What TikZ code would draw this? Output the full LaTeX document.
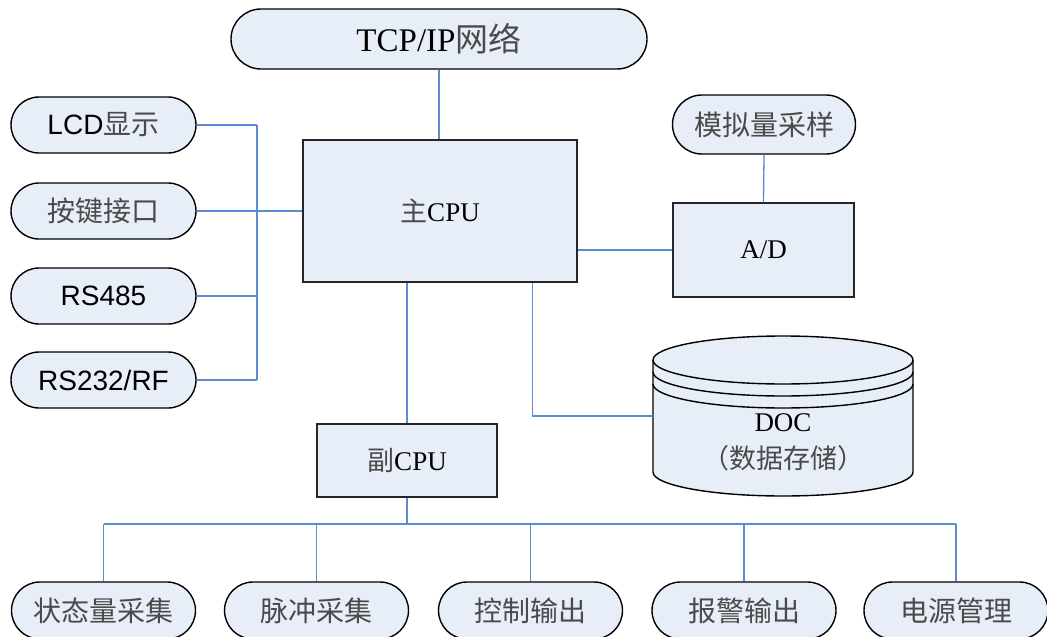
\documentclass[tikz,border=0pt]{standalone}
\usepackage{fontspec}
\setmainfont{Liberation Serif}
\setsansfont{Liberation Sans}
\newfontfamily\cjk{Noto Sans CJK SC}
\usetikzlibrary{calc}
\usetikzlibrary{shapes.misc}
\definecolor{boxfill}{HTML}{E8EEF8}
\definecolor{wire}{HTML}{5B8BD2}
\definecolor{cjkgray}{HTML}{4A4A4A}
\newcommand{\zh}[1]{{\cjk\color{cjkgray}#1}}

\begin{document}
\begin{tikzpicture}[x=1pt,y=-1pt,
  pill/.style={rounded rectangle, draw=black, line width=1.4pt, fill=boxfill,
    minimum width=185pt, minimum height=56pt, inner sep=0pt,
    font=\fontsize{28}{34}\selectfont},
  block/.style={rectangle, draw=black!85, line width=1.3pt, fill=boxfill,
    inner sep=0pt, font=\fontsize{27}{33}\selectfont},
  thinwire/.style={wire, line width=1.3pt},
  thickwire/.style={wire, line width=2.8pt}]
\useasboundingbox (0,0) rectangle (1047,637);

% top part
\node[pill, minimum width=416pt, minimum height=60pt, font=\fontsize{33}{38}\selectfont] (tcp) at (439,39) {TCP/IP\zh{网络}};
\node[block, minimum width=274pt, minimum height=142pt] (main) at (440,211) {\zh{主}CPU};
\draw[thinwire] (tcp.south) -- (tcp.south |- main.north);

% left interfaces
\foreach \y/\name/\txt in {125/lcd/{{\sffamily LCD}\zh{显示}}, 211/key/{\zh{按键接口}},
    296/rsa/{\sffamily RS485}, 380/rsb/{\sffamily RS232/RF}}
  \node[pill] (\name) at (103.5,\y) {\txt};
\coordinate (lbus) at (257,0);
\draw[thinwire] (lcd.east) -- (lcd -| lbus);
\draw[thinwire] (rsa.east) -- (rsa -| lbus);
\draw[thickwire] (rsb.east) -- (rsb -| lbus);
\draw[thickwire] (lcd -| lbus) -- (rsb -| lbus);
\draw[thickwire] (key.east) -- (main.west);

% analog input
\node[pill, minimum width=183pt, minimum height=59pt] (ana) at (764,124.5) {\zh{模拟量采样}};
\node[block, minimum width=181pt, minimum height=94pt] (ad) at (763.5,250) {A/D};
\draw[thinwire] (ana.south) -- (ad.north);
\draw[thickwire] (ad.west -| main.east) -- (ad.west);

% storage
\filldraw[fill=boxfill, draw=black, line width=1.4pt] (653,360) -- (653,472)
  arc[start angle=180, end angle=0, x radius=130, y radius=24] -- (913,360)
  arc[start angle=0, end angle=-180, x radius=130, y radius=24] -- cycle;
\foreach \c in {360,372,384}
  \draw[black, line width=1.4pt] (653,\c) arc[start angle=180, end angle=0, x radius=130, y radius=24];
\node[align=center, font=\fontsize{27}{37}\selectfont] (doc) at (783,442) {DOC\\\zh{（数据存储）}};
\coordinate (docin) at (653,416);
\draw[thinwire] ([xshift=-45pt]main.south east) |- (docin);

% secondary cpu
\node[block, minimum width=180pt, minimum height=73pt] (sub) at (407,460.5) {\zh{副}CPU};
\draw[thinwire] (sub.north |- main.south) -- (sub.north);
\coordinate (bbus) at (407,524);
\draw[thinwire] (sub.south) -- (bbus);

% bottom row
\foreach \x/\name/\txt in {103.5/sta/状态量采集, 316.5/pul/脉冲采集, 530.5/ctl/控制输出,
    744/alm/报警输出, 956/pwr/电源管理} {
  \node[pill, minimum width=184pt, minimum height=57pt] (\name) at (\x,610.5) {\zh{\txt}};
  \draw[thinwire] (\name.north |- bbus) -- (\name.north);
}
\draw[thinwire] (sta.north |- bbus) -- (pwr.north |- bbus);
\end{tikzpicture}
\end{document}
